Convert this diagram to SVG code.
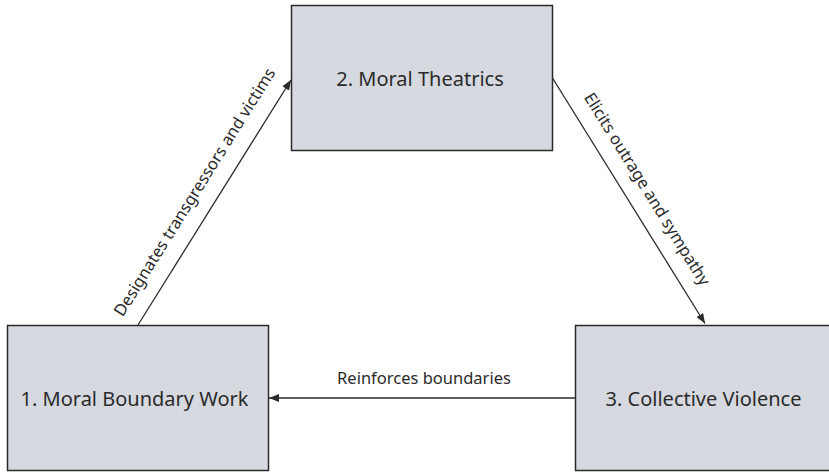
<svg xmlns="http://www.w3.org/2000/svg" width="829" height="472" viewBox="0 0 829 472">
<style>
.box{fill:#d6d9e0;stroke:#2b2b2b;stroke-width:1.5}
.lbl{font-family:"Noto Sans","Open Sans",sans-serif;fill:#2b2b2b;text-anchor:middle;dominant-baseline:central}
.node{font-size:20px}
.edge{font-size:16.5px;dominant-baseline:auto}
.ln{stroke:#2b2b2b;stroke-width:1.3;fill:none;marker-end:url(#ah)}
</style>
<defs>
<marker id="ah" viewBox="0 0 10 8" refX="10" refY="4" markerWidth="10" markerHeight="8" markerUnits="userSpaceOnUse" orient="auto">
<path d="M0,0 L10,4 L0,8 Z" fill="#2b2b2b"/>
</marker>
</defs>
<rect width="829" height="472" fill="#ffffff"/>
<g id="connectors">
<line class="ln" x1="138" y1="325" x2="291" y2="80"/>
<line class="ln" x1="552.5" y1="78" x2="705" y2="323.5"/>
<line class="ln" x1="575.5" y1="398" x2="269" y2="398"/>
<text class="lbl edge" transform="translate(213,203.5) rotate(-58)" x="0" y="-16">Designates transgressors and victims</text>
<text class="lbl edge" transform="translate(628.75,200.5) rotate(58.2)" x="0" y="-16">Elicits outrage and sympathy</text>
<text class="lbl edge" x="424" y="383.5">Reinforces boundaries</text>
</g>
<g id="node1">
<rect class="box" x="7.5" y="325.5" width="261" height="145"/>
<text class="lbl node" x="134.5" y="398.5">1. Moral Boundary Work</text>
</g>
<g id="node2">
<rect class="box" x="291.5" y="5.5" width="261" height="145"/>
<text class="lbl node" x="420" y="78.3">2. Moral Theatrics</text>
</g>
<g id="node3">
<rect class="box" x="575.5" y="325.5" width="261" height="145"/>
<text class="lbl node" x="703.5" y="398.5">3. Collective Violence</text>
</g>
</svg>
